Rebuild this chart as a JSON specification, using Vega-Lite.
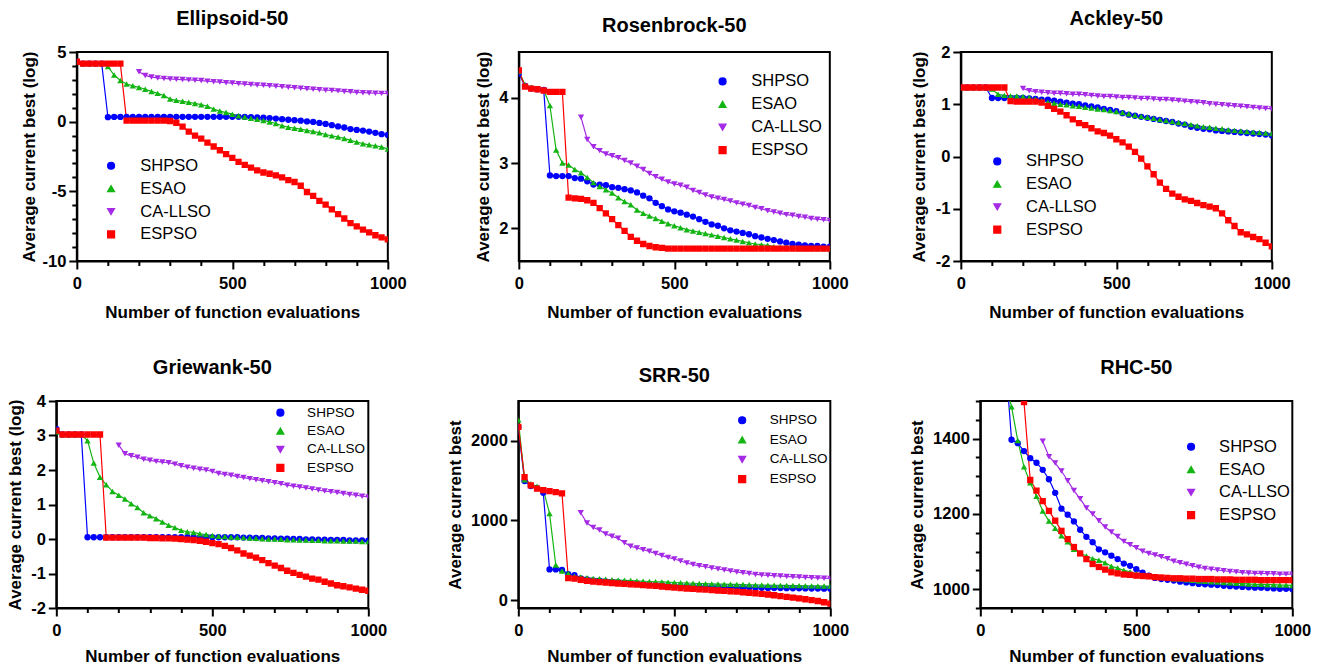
{
"$schema":"https://vega.github.io/schema/vega-lite/v6.json",
"background":"white",
"padding":{"left":5,"top":8,"right":5,"bottom":5},
"datasets":{
"ell":[
{"s":"SHPSO","x":0,"y":4.33},{"s":"SHPSO","x":20,"y":4.17},{"s":"SHPSO","x":40,"y":4.17},{"s":"SHPSO","x":60,"y":4.17},{"s":"SHPSO","x":80,"y":4.17},{"s":"SHPSO","x":100,"y":0.32},{"s":"SHPSO","x":120,"y":0.34},{"s":"SHPSO","x":140,"y":0.34},{"s":"SHPSO","x":160,"y":0.34},{"s":"SHPSO","x":180,"y":0.34},{"s":"SHPSO","x":200,"y":0.34},{"s":"SHPSO","x":220,"y":0.34},{"s":"SHPSO","x":240,"y":0.34},{"s":"SHPSO","x":260,"y":0.35},{"s":"SHPSO","x":280,"y":0.35},{"s":"SHPSO","x":300,"y":0.35},{"s":"SHPSO","x":320,"y":0.35},{"s":"SHPSO","x":340,"y":0.35},{"s":"SHPSO","x":360,"y":0.35},{"s":"SHPSO","x":380,"y":0.35},{"s":"SHPSO","x":400,"y":0.35},{"s":"SHPSO","x":420,"y":0.35},{"s":"SHPSO","x":440,"y":0.35},{"s":"SHPSO","x":460,"y":0.35},{"s":"SHPSO","x":480,"y":0.35},{"s":"SHPSO","x":500,"y":0.35},{"s":"SHPSO","x":520,"y":0.35},{"s":"SHPSO","x":540,"y":0.34},{"s":"SHPSO","x":560,"y":0.33},{"s":"SHPSO","x":580,"y":0.3},{"s":"SHPSO","x":600,"y":0.28},{"s":"SHPSO","x":620,"y":0.26},{"s":"SHPSO","x":640,"y":0.22},{"s":"SHPSO","x":660,"y":0.18},{"s":"SHPSO","x":680,"y":0.14},{"s":"SHPSO","x":700,"y":0.11},{"s":"SHPSO","x":720,"y":0.07},{"s":"SHPSO","x":740,"y":0.02},{"s":"SHPSO","x":760,"y":-0.02},{"s":"SHPSO","x":780,"y":-0.09},{"s":"SHPSO","x":800,"y":-0.16},{"s":"SHPSO","x":820,"y":-0.25},{"s":"SHPSO","x":840,"y":-0.34},{"s":"SHPSO","x":860,"y":-0.42},{"s":"SHPSO","x":880,"y":-0.53},{"s":"SHPSO","x":900,"y":-0.59},{"s":"SHPSO","x":920,"y":-0.64},{"s":"SHPSO","x":940,"y":-0.71},{"s":"SHPSO","x":960,"y":-0.8},{"s":"SHPSO","x":980,"y":-0.9},{"s":"SHPSO","x":1000,"y":-0.95},
{"s":"ESAO","x":0,"y":4.3},{"s":"ESAO","x":20,"y":4.17},{"s":"ESAO","x":40,"y":4.17},{"s":"ESAO","x":60,"y":4.17},{"s":"ESAO","x":80,"y":4.17},{"s":"ESAO","x":100,"y":3.95},{"s":"ESAO","x":120,"y":3.35},{"s":"ESAO","x":140,"y":2.95},{"s":"ESAO","x":160,"y":2.7},{"s":"ESAO","x":180,"y":2.57},{"s":"ESAO","x":200,"y":2.46},{"s":"ESAO","x":220,"y":2.33},{"s":"ESAO","x":240,"y":2.17},{"s":"ESAO","x":260,"y":2.03},{"s":"ESAO","x":280,"y":1.88},{"s":"ESAO","x":300,"y":1.62},{"s":"ESAO","x":320,"y":1.53},{"s":"ESAO","x":340,"y":1.46},{"s":"ESAO","x":360,"y":1.39},{"s":"ESAO","x":380,"y":1.31},{"s":"ESAO","x":400,"y":1.22},{"s":"ESAO","x":420,"y":1.11},{"s":"ESAO","x":440,"y":0.9},{"s":"ESAO","x":460,"y":0.76},{"s":"ESAO","x":480,"y":0.65},{"s":"ESAO","x":500,"y":0.54},{"s":"ESAO","x":520,"y":0.43},{"s":"ESAO","x":540,"y":0.34},{"s":"ESAO","x":560,"y":0.25},{"s":"ESAO","x":580,"y":0.17},{"s":"ESAO","x":600,"y":0.09},{"s":"ESAO","x":620,"y":-0.02},{"s":"ESAO","x":640,"y":-0.13},{"s":"ESAO","x":660,"y":-0.29},{"s":"ESAO","x":680,"y":-0.4},{"s":"ESAO","x":700,"y":-0.47},{"s":"ESAO","x":720,"y":-0.54},{"s":"ESAO","x":740,"y":-0.63},{"s":"ESAO","x":760,"y":-0.7},{"s":"ESAO","x":780,"y":-0.8},{"s":"ESAO","x":800,"y":-0.92},{"s":"ESAO","x":820,"y":-1.02},{"s":"ESAO","x":840,"y":-1.1},{"s":"ESAO","x":860,"y":-1.2},{"s":"ESAO","x":880,"y":-1.34},{"s":"ESAO","x":900,"y":-1.46},{"s":"ESAO","x":920,"y":-1.58},{"s":"ESAO","x":940,"y":-1.66},{"s":"ESAO","x":960,"y":-1.73},{"s":"ESAO","x":980,"y":-1.81},{"s":"ESAO","x":1000,"y":-1.97},
{"s":"CA-LLSO","x":200,"y":3.58},{"s":"CA-LLSO","x":220,"y":3.32},{"s":"CA-LLSO","x":240,"y":3.2},{"s":"CA-LLSO","x":260,"y":3.14},{"s":"CA-LLSO","x":280,"y":3.1},{"s":"CA-LLSO","x":300,"y":3.07},{"s":"CA-LLSO","x":320,"y":3.04},{"s":"CA-LLSO","x":340,"y":3.02},{"s":"CA-LLSO","x":360,"y":3.0},{"s":"CA-LLSO","x":380,"y":2.98},{"s":"CA-LLSO","x":400,"y":2.95},{"s":"CA-LLSO","x":420,"y":2.91},{"s":"CA-LLSO","x":440,"y":2.87},{"s":"CA-LLSO","x":460,"y":2.84},{"s":"CA-LLSO","x":480,"y":2.8},{"s":"CA-LLSO","x":500,"y":2.77},{"s":"CA-LLSO","x":520,"y":2.73},{"s":"CA-LLSO","x":540,"y":2.7},{"s":"CA-LLSO","x":560,"y":2.66},{"s":"CA-LLSO","x":580,"y":2.63},{"s":"CA-LLSO","x":600,"y":2.61},{"s":"CA-LLSO","x":620,"y":2.58},{"s":"CA-LLSO","x":640,"y":2.54},{"s":"CA-LLSO","x":660,"y":2.51},{"s":"CA-LLSO","x":680,"y":2.47},{"s":"CA-LLSO","x":700,"y":2.44},{"s":"CA-LLSO","x":720,"y":2.4},{"s":"CA-LLSO","x":740,"y":2.36},{"s":"CA-LLSO","x":760,"y":2.33},{"s":"CA-LLSO","x":780,"y":2.29},{"s":"CA-LLSO","x":800,"y":2.26},{"s":"CA-LLSO","x":820,"y":2.24},{"s":"CA-LLSO","x":840,"y":2.21},{"s":"CA-LLSO","x":860,"y":2.17},{"s":"CA-LLSO","x":880,"y":2.14},{"s":"CA-LLSO","x":900,"y":2.1},{"s":"CA-LLSO","x":920,"y":2.08},{"s":"CA-LLSO","x":940,"y":2.06},{"s":"CA-LLSO","x":960,"y":2.04},{"s":"CA-LLSO","x":980,"y":2.03},{"s":"CA-LLSO","x":1000,"y":2.02},
{"s":"ESPSO","x":0,"y":4.3},{"s":"ESPSO","x":20,"y":4.17},{"s":"ESPSO","x":40,"y":4.17},{"s":"ESPSO","x":60,"y":4.17},{"s":"ESPSO","x":80,"y":4.17},{"s":"ESPSO","x":100,"y":4.17},{"s":"ESPSO","x":120,"y":4.17},{"s":"ESPSO","x":140,"y":4.17},{"s":"ESPSO","x":160,"y":0.08},{"s":"ESPSO","x":180,"y":0.08},{"s":"ESPSO","x":200,"y":0.08},{"s":"ESPSO","x":220,"y":0.08},{"s":"ESPSO","x":240,"y":0.08},{"s":"ESPSO","x":260,"y":0.08},{"s":"ESPSO","x":280,"y":0.08},{"s":"ESPSO","x":300,"y":0.05},{"s":"ESPSO","x":320,"y":-0.08},{"s":"ESPSO","x":340,"y":-0.35},{"s":"ESPSO","x":360,"y":-0.72},{"s":"ESPSO","x":380,"y":-1.0},{"s":"ESPSO","x":400,"y":-1.22},{"s":"ESPSO","x":420,"y":-1.5},{"s":"ESPSO","x":440,"y":-1.78},{"s":"ESPSO","x":460,"y":-2.05},{"s":"ESPSO","x":480,"y":-2.33},{"s":"ESPSO","x":500,"y":-2.6},{"s":"ESPSO","x":520,"y":-2.88},{"s":"ESPSO","x":540,"y":-3.1},{"s":"ESPSO","x":560,"y":-3.3},{"s":"ESPSO","x":580,"y":-3.5},{"s":"ESPSO","x":600,"y":-3.65},{"s":"ESPSO","x":620,"y":-3.74},{"s":"ESPSO","x":640,"y":-3.85},{"s":"ESPSO","x":660,"y":-4.0},{"s":"ESPSO","x":680,"y":-4.2},{"s":"ESPSO","x":700,"y":-4.33},{"s":"ESPSO","x":720,"y":-4.6},{"s":"ESPSO","x":740,"y":-5.05},{"s":"ESPSO","x":760,"y":-5.33},{"s":"ESPSO","x":780,"y":-5.68},{"s":"ESPSO","x":800,"y":-5.95},{"s":"ESPSO","x":820,"y":-6.3},{"s":"ESPSO","x":840,"y":-6.63},{"s":"ESPSO","x":860,"y":-6.95},{"s":"ESPSO","x":880,"y":-7.28},{"s":"ESPSO","x":900,"y":-7.52},{"s":"ESPSO","x":920,"y":-7.75},{"s":"ESPSO","x":940,"y":-7.95},{"s":"ESPSO","x":960,"y":-8.15},{"s":"ESPSO","x":980,"y":-8.3},{"s":"ESPSO","x":1000,"y":-8.45}
],
"ros":[
{"s":"SHPSO","x":0,"y":4.37},{"s":"SHPSO","x":20,"y":4.18},{"s":"SHPSO","x":40,"y":4.14},{"s":"SHPSO","x":60,"y":4.13},{"s":"SHPSO","x":80,"y":4.12},{"s":"SHPSO","x":100,"y":2.81},{"s":"SHPSO","x":120,"y":2.8},{"s":"SHPSO","x":140,"y":2.8},{"s":"SHPSO","x":160,"y":2.8},{"s":"SHPSO","x":180,"y":2.77},{"s":"SHPSO","x":200,"y":2.76},{"s":"SHPSO","x":220,"y":2.72},{"s":"SHPSO","x":240,"y":2.67},{"s":"SHPSO","x":260,"y":2.67},{"s":"SHPSO","x":280,"y":2.66},{"s":"SHPSO","x":300,"y":2.63},{"s":"SHPSO","x":320,"y":2.62},{"s":"SHPSO","x":340,"y":2.6},{"s":"SHPSO","x":360,"y":2.58},{"s":"SHPSO","x":380,"y":2.55},{"s":"SHPSO","x":400,"y":2.5},{"s":"SHPSO","x":420,"y":2.46},{"s":"SHPSO","x":440,"y":2.39},{"s":"SHPSO","x":460,"y":2.34},{"s":"SHPSO","x":480,"y":2.29},{"s":"SHPSO","x":500,"y":2.26},{"s":"SHPSO","x":520,"y":2.24},{"s":"SHPSO","x":540,"y":2.21},{"s":"SHPSO","x":560,"y":2.18},{"s":"SHPSO","x":580,"y":2.14},{"s":"SHPSO","x":600,"y":2.1},{"s":"SHPSO","x":620,"y":2.06},{"s":"SHPSO","x":640,"y":2.04},{"s":"SHPSO","x":660,"y":2.0},{"s":"SHPSO","x":680,"y":1.97},{"s":"SHPSO","x":700,"y":1.95},{"s":"SHPSO","x":720,"y":1.93},{"s":"SHPSO","x":740,"y":1.91},{"s":"SHPSO","x":760,"y":1.88},{"s":"SHPSO","x":780,"y":1.86},{"s":"SHPSO","x":800,"y":1.84},{"s":"SHPSO","x":820,"y":1.82},{"s":"SHPSO","x":840,"y":1.8},{"s":"SHPSO","x":860,"y":1.78},{"s":"SHPSO","x":880,"y":1.76},{"s":"SHPSO","x":900,"y":1.75},{"s":"SHPSO","x":920,"y":1.74},{"s":"SHPSO","x":940,"y":1.73},{"s":"SHPSO","x":960,"y":1.73},{"s":"SHPSO","x":980,"y":1.72},{"s":"SHPSO","x":1000,"y":1.72},
{"s":"ESAO","x":0,"y":4.4},{"s":"ESAO","x":20,"y":4.2},{"s":"ESAO","x":40,"y":4.16},{"s":"ESAO","x":60,"y":4.14},{"s":"ESAO","x":80,"y":4.12},{"s":"ESAO","x":100,"y":3.88},{"s":"ESAO","x":120,"y":3.2},{"s":"ESAO","x":140,"y":3.0},{"s":"ESAO","x":160,"y":2.97},{"s":"ESAO","x":180,"y":2.9},{"s":"ESAO","x":200,"y":2.85},{"s":"ESAO","x":220,"y":2.78},{"s":"ESAO","x":240,"y":2.7},{"s":"ESAO","x":260,"y":2.64},{"s":"ESAO","x":280,"y":2.59},{"s":"ESAO","x":300,"y":2.54},{"s":"ESAO","x":320,"y":2.47},{"s":"ESAO","x":340,"y":2.41},{"s":"ESAO","x":360,"y":2.36},{"s":"ESAO","x":380,"y":2.28},{"s":"ESAO","x":400,"y":2.23},{"s":"ESAO","x":420,"y":2.19},{"s":"ESAO","x":440,"y":2.15},{"s":"ESAO","x":460,"y":2.11},{"s":"ESAO","x":480,"y":2.07},{"s":"ESAO","x":500,"y":2.04},{"s":"ESAO","x":520,"y":2.01},{"s":"ESAO","x":540,"y":1.98},{"s":"ESAO","x":560,"y":1.96},{"s":"ESAO","x":580,"y":1.94},{"s":"ESAO","x":600,"y":1.92},{"s":"ESAO","x":620,"y":1.9},{"s":"ESAO","x":640,"y":1.88},{"s":"ESAO","x":660,"y":1.86},{"s":"ESAO","x":680,"y":1.84},{"s":"ESAO","x":700,"y":1.82},{"s":"ESAO","x":720,"y":1.8},{"s":"ESAO","x":740,"y":1.78},{"s":"ESAO","x":760,"y":1.76},{"s":"ESAO","x":780,"y":1.75},{"s":"ESAO","x":800,"y":1.74},{"s":"ESAO","x":820,"y":1.72},{"s":"ESAO","x":840,"y":1.71},{"s":"ESAO","x":860,"y":1.71},{"s":"ESAO","x":880,"y":1.7},{"s":"ESAO","x":900,"y":1.69},{"s":"ESAO","x":920,"y":1.69},{"s":"ESAO","x":940,"y":1.69},{"s":"ESAO","x":960,"y":1.69},{"s":"ESAO","x":980,"y":1.69},{"s":"ESAO","x":1000,"y":1.69},
{"s":"CA-LLSO","x":200,"y":3.7},{"s":"CA-LLSO","x":220,"y":3.36},{"s":"CA-LLSO","x":240,"y":3.25},{"s":"CA-LLSO","x":260,"y":3.19},{"s":"CA-LLSO","x":280,"y":3.14},{"s":"CA-LLSO","x":300,"y":3.11},{"s":"CA-LLSO","x":320,"y":3.08},{"s":"CA-LLSO","x":340,"y":3.04},{"s":"CA-LLSO","x":360,"y":3.0},{"s":"CA-LLSO","x":380,"y":2.95},{"s":"CA-LLSO","x":400,"y":2.9},{"s":"CA-LLSO","x":420,"y":2.84},{"s":"CA-LLSO","x":440,"y":2.79},{"s":"CA-LLSO","x":460,"y":2.75},{"s":"CA-LLSO","x":480,"y":2.71},{"s":"CA-LLSO","x":500,"y":2.68},{"s":"CA-LLSO","x":520,"y":2.66},{"s":"CA-LLSO","x":540,"y":2.63},{"s":"CA-LLSO","x":560,"y":2.58},{"s":"CA-LLSO","x":580,"y":2.55},{"s":"CA-LLSO","x":600,"y":2.51},{"s":"CA-LLSO","x":620,"y":2.48},{"s":"CA-LLSO","x":640,"y":2.46},{"s":"CA-LLSO","x":660,"y":2.44},{"s":"CA-LLSO","x":680,"y":2.42},{"s":"CA-LLSO","x":700,"y":2.39},{"s":"CA-LLSO","x":720,"y":2.37},{"s":"CA-LLSO","x":740,"y":2.35},{"s":"CA-LLSO","x":760,"y":2.32},{"s":"CA-LLSO","x":780,"y":2.3},{"s":"CA-LLSO","x":800,"y":2.27},{"s":"CA-LLSO","x":820,"y":2.25},{"s":"CA-LLSO","x":840,"y":2.23},{"s":"CA-LLSO","x":860,"y":2.21},{"s":"CA-LLSO","x":880,"y":2.2},{"s":"CA-LLSO","x":900,"y":2.18},{"s":"CA-LLSO","x":920,"y":2.17},{"s":"CA-LLSO","x":940,"y":2.15},{"s":"CA-LLSO","x":960,"y":2.14},{"s":"CA-LLSO","x":980,"y":2.13},{"s":"CA-LLSO","x":1000,"y":2.12},
{"s":"ESPSO","x":0,"y":4.42},{"s":"ESPSO","x":20,"y":4.17},{"s":"ESPSO","x":40,"y":4.14},{"s":"ESPSO","x":60,"y":4.13},{"s":"ESPSO","x":80,"y":4.11},{"s":"ESPSO","x":100,"y":4.09},{"s":"ESPSO","x":120,"y":4.09},{"s":"ESPSO","x":140,"y":4.09},{"s":"ESPSO","x":160,"y":2.47},{"s":"ESPSO","x":180,"y":2.46},{"s":"ESPSO","x":200,"y":2.45},{"s":"ESPSO","x":220,"y":2.43},{"s":"ESPSO","x":240,"y":2.39},{"s":"ESPSO","x":260,"y":2.31},{"s":"ESPSO","x":280,"y":2.23},{"s":"ESPSO","x":300,"y":2.14},{"s":"ESPSO","x":320,"y":2.05},{"s":"ESPSO","x":340,"y":1.96},{"s":"ESPSO","x":360,"y":1.87},{"s":"ESPSO","x":380,"y":1.81},{"s":"ESPSO","x":400,"y":1.76},{"s":"ESPSO","x":420,"y":1.73},{"s":"ESPSO","x":440,"y":1.71},{"s":"ESPSO","x":460,"y":1.7},{"s":"ESPSO","x":480,"y":1.69},{"s":"ESPSO","x":500,"y":1.69},{"s":"ESPSO","x":520,"y":1.69},{"s":"ESPSO","x":540,"y":1.69},{"s":"ESPSO","x":560,"y":1.69},{"s":"ESPSO","x":580,"y":1.69},{"s":"ESPSO","x":600,"y":1.69},{"s":"ESPSO","x":620,"y":1.69},{"s":"ESPSO","x":640,"y":1.69},{"s":"ESPSO","x":660,"y":1.69},{"s":"ESPSO","x":680,"y":1.69},{"s":"ESPSO","x":700,"y":1.69},{"s":"ESPSO","x":720,"y":1.69},{"s":"ESPSO","x":740,"y":1.69},{"s":"ESPSO","x":760,"y":1.69},{"s":"ESPSO","x":780,"y":1.69},{"s":"ESPSO","x":800,"y":1.69},{"s":"ESPSO","x":820,"y":1.69},{"s":"ESPSO","x":840,"y":1.69},{"s":"ESPSO","x":860,"y":1.69},{"s":"ESPSO","x":880,"y":1.69},{"s":"ESPSO","x":900,"y":1.69},{"s":"ESPSO","x":920,"y":1.69},{"s":"ESPSO","x":940,"y":1.69},{"s":"ESPSO","x":960,"y":1.69},{"s":"ESPSO","x":980,"y":1.69},{"s":"ESPSO","x":1000,"y":1.69}
],
"ack":[
{"s":"SHPSO","x":0,"y":1.32},{"s":"SHPSO","x":20,"y":1.32},{"s":"SHPSO","x":40,"y":1.32},{"s":"SHPSO","x":60,"y":1.32},{"s":"SHPSO","x":80,"y":1.32},{"s":"SHPSO","x":100,"y":1.12},{"s":"SHPSO","x":120,"y":1.12},{"s":"SHPSO","x":140,"y":1.12},{"s":"SHPSO","x":160,"y":1.12},{"s":"SHPSO","x":180,"y":1.12},{"s":"SHPSO","x":200,"y":1.12},{"s":"SHPSO","x":220,"y":1.11},{"s":"SHPSO","x":240,"y":1.1},{"s":"SHPSO","x":260,"y":1.09},{"s":"SHPSO","x":280,"y":1.09},{"s":"SHPSO","x":300,"y":1.07},{"s":"SHPSO","x":320,"y":1.05},{"s":"SHPSO","x":340,"y":1.03},{"s":"SHPSO","x":360,"y":1.01},{"s":"SHPSO","x":380,"y":1.0},{"s":"SHPSO","x":400,"y":0.98},{"s":"SHPSO","x":420,"y":0.96},{"s":"SHPSO","x":440,"y":0.94},{"s":"SHPSO","x":460,"y":0.91},{"s":"SHPSO","x":480,"y":0.89},{"s":"SHPSO","x":500,"y":0.87},{"s":"SHPSO","x":520,"y":0.83},{"s":"SHPSO","x":540,"y":0.8},{"s":"SHPSO","x":560,"y":0.78},{"s":"SHPSO","x":580,"y":0.76},{"s":"SHPSO","x":600,"y":0.74},{"s":"SHPSO","x":620,"y":0.72},{"s":"SHPSO","x":640,"y":0.7},{"s":"SHPSO","x":660,"y":0.68},{"s":"SHPSO","x":680,"y":0.66},{"s":"SHPSO","x":700,"y":0.63},{"s":"SHPSO","x":720,"y":0.61},{"s":"SHPSO","x":740,"y":0.57},{"s":"SHPSO","x":760,"y":0.55},{"s":"SHPSO","x":780,"y":0.53},{"s":"SHPSO","x":800,"y":0.52},{"s":"SHPSO","x":820,"y":0.5},{"s":"SHPSO","x":840,"y":0.49},{"s":"SHPSO","x":860,"y":0.48},{"s":"SHPSO","x":880,"y":0.47},{"s":"SHPSO","x":900,"y":0.46},{"s":"SHPSO","x":920,"y":0.45},{"s":"SHPSO","x":940,"y":0.44},{"s":"SHPSO","x":960,"y":0.43},{"s":"SHPSO","x":980,"y":0.42},{"s":"SHPSO","x":1000,"y":0.4},
{"s":"ESAO","x":0,"y":1.32},{"s":"ESAO","x":20,"y":1.32},{"s":"ESAO","x":40,"y":1.32},{"s":"ESAO","x":60,"y":1.32},{"s":"ESAO","x":80,"y":1.32},{"s":"ESAO","x":100,"y":1.29},{"s":"ESAO","x":120,"y":1.19},{"s":"ESAO","x":140,"y":1.17},{"s":"ESAO","x":160,"y":1.16},{"s":"ESAO","x":180,"y":1.16},{"s":"ESAO","x":200,"y":1.15},{"s":"ESAO","x":220,"y":1.13},{"s":"ESAO","x":240,"y":1.1},{"s":"ESAO","x":260,"y":1.07},{"s":"ESAO","x":280,"y":1.04},{"s":"ESAO","x":300,"y":1.02},{"s":"ESAO","x":320,"y":1.0},{"s":"ESAO","x":340,"y":0.99},{"s":"ESAO","x":360,"y":0.97},{"s":"ESAO","x":380,"y":0.96},{"s":"ESAO","x":400,"y":0.94},{"s":"ESAO","x":420,"y":0.93},{"s":"ESAO","x":440,"y":0.91},{"s":"ESAO","x":460,"y":0.9},{"s":"ESAO","x":480,"y":0.88},{"s":"ESAO","x":500,"y":0.86},{"s":"ESAO","x":520,"y":0.84},{"s":"ESAO","x":540,"y":0.82},{"s":"ESAO","x":560,"y":0.79},{"s":"ESAO","x":580,"y":0.77},{"s":"ESAO","x":600,"y":0.75},{"s":"ESAO","x":620,"y":0.73},{"s":"ESAO","x":640,"y":0.71},{"s":"ESAO","x":660,"y":0.69},{"s":"ESAO","x":680,"y":0.67},{"s":"ESAO","x":700,"y":0.65},{"s":"ESAO","x":720,"y":0.63},{"s":"ESAO","x":740,"y":0.61},{"s":"ESAO","x":760,"y":0.59},{"s":"ESAO","x":780,"y":0.57},{"s":"ESAO","x":800,"y":0.56},{"s":"ESAO","x":820,"y":0.54},{"s":"ESAO","x":840,"y":0.53},{"s":"ESAO","x":860,"y":0.51},{"s":"ESAO","x":880,"y":0.5},{"s":"ESAO","x":900,"y":0.49},{"s":"ESAO","x":920,"y":0.48},{"s":"ESAO","x":940,"y":0.47},{"s":"ESAO","x":960,"y":0.46},{"s":"ESAO","x":980,"y":0.45},{"s":"ESAO","x":1000,"y":0.44},
{"s":"CA-LLSO","x":200,"y":1.3},{"s":"CA-LLSO","x":220,"y":1.26},{"s":"CA-LLSO","x":240,"y":1.24},{"s":"CA-LLSO","x":260,"y":1.23},{"s":"CA-LLSO","x":280,"y":1.22},{"s":"CA-LLSO","x":300,"y":1.21},{"s":"CA-LLSO","x":320,"y":1.21},{"s":"CA-LLSO","x":340,"y":1.2},{"s":"CA-LLSO","x":360,"y":1.19},{"s":"CA-LLSO","x":380,"y":1.19},{"s":"CA-LLSO","x":400,"y":1.18},{"s":"CA-LLSO","x":420,"y":1.17},{"s":"CA-LLSO","x":440,"y":1.16},{"s":"CA-LLSO","x":460,"y":1.15},{"s":"CA-LLSO","x":480,"y":1.15},{"s":"CA-LLSO","x":500,"y":1.14},{"s":"CA-LLSO","x":520,"y":1.13},{"s":"CA-LLSO","x":540,"y":1.13},{"s":"CA-LLSO","x":560,"y":1.12},{"s":"CA-LLSO","x":580,"y":1.11},{"s":"CA-LLSO","x":600,"y":1.11},{"s":"CA-LLSO","x":620,"y":1.1},{"s":"CA-LLSO","x":640,"y":1.09},{"s":"CA-LLSO","x":660,"y":1.09},{"s":"CA-LLSO","x":680,"y":1.08},{"s":"CA-LLSO","x":700,"y":1.07},{"s":"CA-LLSO","x":720,"y":1.06},{"s":"CA-LLSO","x":740,"y":1.05},{"s":"CA-LLSO","x":760,"y":1.04},{"s":"CA-LLSO","x":780,"y":1.03},{"s":"CA-LLSO","x":800,"y":1.01},{"s":"CA-LLSO","x":820,"y":1.0},{"s":"CA-LLSO","x":840,"y":0.99},{"s":"CA-LLSO","x":860,"y":0.98},{"s":"CA-LLSO","x":880,"y":0.97},{"s":"CA-LLSO","x":900,"y":0.96},{"s":"CA-LLSO","x":920,"y":0.95},{"s":"CA-LLSO","x":940,"y":0.94},{"s":"CA-LLSO","x":960,"y":0.93},{"s":"CA-LLSO","x":980,"y":0.92},{"s":"CA-LLSO","x":1000,"y":0.91},
{"s":"ESPSO","x":0,"y":1.32},{"s":"ESPSO","x":20,"y":1.32},{"s":"ESPSO","x":40,"y":1.32},{"s":"ESPSO","x":60,"y":1.32},{"s":"ESPSO","x":80,"y":1.32},{"s":"ESPSO","x":100,"y":1.32},{"s":"ESPSO","x":120,"y":1.32},{"s":"ESPSO","x":140,"y":1.32},{"s":"ESPSO","x":160,"y":1.06},{"s":"ESPSO","x":180,"y":1.05},{"s":"ESPSO","x":200,"y":1.05},{"s":"ESPSO","x":220,"y":1.05},{"s":"ESPSO","x":240,"y":1.05},{"s":"ESPSO","x":260,"y":1.03},{"s":"ESPSO","x":280,"y":0.97},{"s":"ESPSO","x":300,"y":0.91},{"s":"ESPSO","x":320,"y":0.86},{"s":"ESPSO","x":340,"y":0.79},{"s":"ESPSO","x":360,"y":0.71},{"s":"ESPSO","x":380,"y":0.64},{"s":"ESPSO","x":400,"y":0.6},{"s":"ESPSO","x":420,"y":0.54},{"s":"ESPSO","x":440,"y":0.48},{"s":"ESPSO","x":460,"y":0.45},{"s":"ESPSO","x":480,"y":0.4},{"s":"ESPSO","x":500,"y":0.33},{"s":"ESPSO","x":520,"y":0.27},{"s":"ESPSO","x":540,"y":0.19},{"s":"ESPSO","x":560,"y":0.09},{"s":"ESPSO","x":580,"y":-0.04},{"s":"ESPSO","x":600,"y":-0.19},{"s":"ESPSO","x":620,"y":-0.34},{"s":"ESPSO","x":640,"y":-0.5},{"s":"ESPSO","x":660,"y":-0.62},{"s":"ESPSO","x":680,"y":-0.71},{"s":"ESPSO","x":700,"y":-0.77},{"s":"ESPSO","x":720,"y":-0.82},{"s":"ESPSO","x":740,"y":-0.85},{"s":"ESPSO","x":760,"y":-0.89},{"s":"ESPSO","x":780,"y":-0.93},{"s":"ESPSO","x":800,"y":-0.96},{"s":"ESPSO","x":820,"y":-0.99},{"s":"ESPSO","x":840,"y":-1.09},{"s":"ESPSO","x":860,"y":-1.22},{"s":"ESPSO","x":880,"y":-1.33},{"s":"ESPSO","x":900,"y":-1.45},{"s":"ESPSO","x":920,"y":-1.49},{"s":"ESPSO","x":940,"y":-1.54},{"s":"ESPSO","x":960,"y":-1.58},{"s":"ESPSO","x":980,"y":-1.65},{"s":"ESPSO","x":1000,"y":-1.72}
],
"gri":[
{"s":"SHPSO","x":0,"y":3.19},{"s":"SHPSO","x":20,"y":3.03},{"s":"SHPSO","x":40,"y":3.03},{"s":"SHPSO","x":60,"y":3.03},{"s":"SHPSO","x":80,"y":3.03},{"s":"SHPSO","x":100,"y":0.05},{"s":"SHPSO","x":120,"y":0.05},{"s":"SHPSO","x":140,"y":0.05},{"s":"SHPSO","x":160,"y":0.05},{"s":"SHPSO","x":180,"y":0.05},{"s":"SHPSO","x":200,"y":0.05},{"s":"SHPSO","x":220,"y":0.05},{"s":"SHPSO","x":240,"y":0.05},{"s":"SHPSO","x":260,"y":0.05},{"s":"SHPSO","x":280,"y":0.05},{"s":"SHPSO","x":300,"y":0.05},{"s":"SHPSO","x":320,"y":0.05},{"s":"SHPSO","x":340,"y":0.05},{"s":"SHPSO","x":360,"y":0.05},{"s":"SHPSO","x":380,"y":0.05},{"s":"SHPSO","x":400,"y":0.05},{"s":"SHPSO","x":420,"y":0.05},{"s":"SHPSO","x":440,"y":0.05},{"s":"SHPSO","x":460,"y":0.05},{"s":"SHPSO","x":480,"y":0.05},{"s":"SHPSO","x":500,"y":0.05},{"s":"SHPSO","x":520,"y":0.05},{"s":"SHPSO","x":540,"y":0.05},{"s":"SHPSO","x":560,"y":0.05},{"s":"SHPSO","x":580,"y":0.05},{"s":"SHPSO","x":600,"y":0.04},{"s":"SHPSO","x":620,"y":0.04},{"s":"SHPSO","x":640,"y":0.03},{"s":"SHPSO","x":660,"y":0.03},{"s":"SHPSO","x":680,"y":0.02},{"s":"SHPSO","x":700,"y":0.02},{"s":"SHPSO","x":720,"y":0.01},{"s":"SHPSO","x":740,"y":0.01},{"s":"SHPSO","x":760,"y":0.0},{"s":"SHPSO","x":780,"y":0.0},{"s":"SHPSO","x":800,"y":-0.01},{"s":"SHPSO","x":820,"y":-0.01},{"s":"SHPSO","x":840,"y":-0.02},{"s":"SHPSO","x":860,"y":-0.02},{"s":"SHPSO","x":880,"y":-0.03},{"s":"SHPSO","x":900,"y":-0.03},{"s":"SHPSO","x":920,"y":-0.03},{"s":"SHPSO","x":940,"y":-0.04},{"s":"SHPSO","x":960,"y":-0.04},{"s":"SHPSO","x":980,"y":-0.04},{"s":"SHPSO","x":1000,"y":-0.05},
{"s":"ESAO","x":0,"y":3.1},{"s":"ESAO","x":20,"y":3.03},{"s":"ESAO","x":40,"y":3.03},{"s":"ESAO","x":60,"y":3.03},{"s":"ESAO","x":80,"y":3.03},{"s":"ESAO","x":100,"y":2.85},{"s":"ESAO","x":120,"y":2.2},{"s":"ESAO","x":140,"y":1.79},{"s":"ESAO","x":160,"y":1.57},{"s":"ESAO","x":180,"y":1.38},{"s":"ESAO","x":200,"y":1.27},{"s":"ESAO","x":220,"y":1.16},{"s":"ESAO","x":240,"y":1.02},{"s":"ESAO","x":260,"y":0.91},{"s":"ESAO","x":280,"y":0.76},{"s":"ESAO","x":300,"y":0.67},{"s":"ESAO","x":320,"y":0.59},{"s":"ESAO","x":340,"y":0.49},{"s":"ESAO","x":360,"y":0.4},{"s":"ESAO","x":380,"y":0.33},{"s":"ESAO","x":400,"y":0.25},{"s":"ESAO","x":420,"y":0.21},{"s":"ESAO","x":440,"y":0.19},{"s":"ESAO","x":460,"y":0.15},{"s":"ESAO","x":480,"y":0.13},{"s":"ESAO","x":500,"y":0.1},{"s":"ESAO","x":520,"y":0.08},{"s":"ESAO","x":540,"y":0.07},{"s":"ESAO","x":560,"y":0.06},{"s":"ESAO","x":580,"y":0.05},{"s":"ESAO","x":600,"y":0.04},{"s":"ESAO","x":620,"y":0.03},{"s":"ESAO","x":640,"y":0.02},{"s":"ESAO","x":660,"y":0.01},{"s":"ESAO","x":680,"y":0.0},{"s":"ESAO","x":700,"y":0.0},{"s":"ESAO","x":720,"y":-0.01},{"s":"ESAO","x":740,"y":-0.02},{"s":"ESAO","x":760,"y":-0.02},{"s":"ESAO","x":780,"y":-0.03},{"s":"ESAO","x":800,"y":-0.03},{"s":"ESAO","x":820,"y":-0.04},{"s":"ESAO","x":840,"y":-0.04},{"s":"ESAO","x":860,"y":-0.05},{"s":"ESAO","x":880,"y":-0.05},{"s":"ESAO","x":900,"y":-0.05},{"s":"ESAO","x":920,"y":-0.06},{"s":"ESAO","x":940,"y":-0.06},{"s":"ESAO","x":960,"y":-0.06},{"s":"ESAO","x":980,"y":-0.07},{"s":"ESAO","x":1000,"y":-0.07},
{"s":"CA-LLSO","x":200,"y":2.72},{"s":"CA-LLSO","x":220,"y":2.47},{"s":"CA-LLSO","x":240,"y":2.41},{"s":"CA-LLSO","x":260,"y":2.37},{"s":"CA-LLSO","x":280,"y":2.31},{"s":"CA-LLSO","x":300,"y":2.28},{"s":"CA-LLSO","x":320,"y":2.25},{"s":"CA-LLSO","x":340,"y":2.23},{"s":"CA-LLSO","x":360,"y":2.21},{"s":"CA-LLSO","x":380,"y":2.17},{"s":"CA-LLSO","x":400,"y":2.12},{"s":"CA-LLSO","x":420,"y":2.08},{"s":"CA-LLSO","x":440,"y":2.05},{"s":"CA-LLSO","x":460,"y":2.02},{"s":"CA-LLSO","x":480,"y":2.0},{"s":"CA-LLSO","x":500,"y":1.96},{"s":"CA-LLSO","x":520,"y":1.9},{"s":"CA-LLSO","x":540,"y":1.87},{"s":"CA-LLSO","x":560,"y":1.85},{"s":"CA-LLSO","x":580,"y":1.81},{"s":"CA-LLSO","x":600,"y":1.78},{"s":"CA-LLSO","x":620,"y":1.75},{"s":"CA-LLSO","x":640,"y":1.72},{"s":"CA-LLSO","x":660,"y":1.69},{"s":"CA-LLSO","x":680,"y":1.66},{"s":"CA-LLSO","x":700,"y":1.63},{"s":"CA-LLSO","x":720,"y":1.6},{"s":"CA-LLSO","x":740,"y":1.56},{"s":"CA-LLSO","x":760,"y":1.53},{"s":"CA-LLSO","x":780,"y":1.51},{"s":"CA-LLSO","x":800,"y":1.48},{"s":"CA-LLSO","x":820,"y":1.45},{"s":"CA-LLSO","x":840,"y":1.42},{"s":"CA-LLSO","x":860,"y":1.39},{"s":"CA-LLSO","x":880,"y":1.37},{"s":"CA-LLSO","x":900,"y":1.35},{"s":"CA-LLSO","x":920,"y":1.32},{"s":"CA-LLSO","x":940,"y":1.29},{"s":"CA-LLSO","x":960,"y":1.27},{"s":"CA-LLSO","x":980,"y":1.24},{"s":"CA-LLSO","x":1000,"y":1.22},
{"s":"ESPSO","x":0,"y":3.14},{"s":"ESPSO","x":20,"y":3.03},{"s":"ESPSO","x":40,"y":3.03},{"s":"ESPSO","x":60,"y":3.03},{"s":"ESPSO","x":80,"y":3.03},{"s":"ESPSO","x":100,"y":3.03},{"s":"ESPSO","x":120,"y":3.03},{"s":"ESPSO","x":140,"y":3.03},{"s":"ESPSO","x":160,"y":0.04},{"s":"ESPSO","x":180,"y":0.04},{"s":"ESPSO","x":200,"y":0.04},{"s":"ESPSO","x":220,"y":0.04},{"s":"ESPSO","x":240,"y":0.04},{"s":"ESPSO","x":260,"y":0.04},{"s":"ESPSO","x":280,"y":0.04},{"s":"ESPSO","x":300,"y":0.03},{"s":"ESPSO","x":320,"y":0.03},{"s":"ESPSO","x":340,"y":0.02},{"s":"ESPSO","x":360,"y":0.02},{"s":"ESPSO","x":380,"y":0.01},{"s":"ESPSO","x":400,"y":0.0},{"s":"ESPSO","x":420,"y":-0.02},{"s":"ESPSO","x":440,"y":-0.03},{"s":"ESPSO","x":460,"y":-0.05},{"s":"ESPSO","x":480,"y":-0.08},{"s":"ESPSO","x":500,"y":-0.12},{"s":"ESPSO","x":520,"y":-0.15},{"s":"ESPSO","x":540,"y":-0.2},{"s":"ESPSO","x":560,"y":-0.26},{"s":"ESPSO","x":580,"y":-0.33},{"s":"ESPSO","x":600,"y":-0.42},{"s":"ESPSO","x":620,"y":-0.48},{"s":"ESPSO","x":640,"y":-0.54},{"s":"ESPSO","x":660,"y":-0.61},{"s":"ESPSO","x":680,"y":-0.7},{"s":"ESPSO","x":700,"y":-0.77},{"s":"ESPSO","x":720,"y":-0.84},{"s":"ESPSO","x":740,"y":-0.92},{"s":"ESPSO","x":760,"y":-0.98},{"s":"ESPSO","x":780,"y":-1.04},{"s":"ESPSO","x":800,"y":-1.09},{"s":"ESPSO","x":820,"y":-1.15},{"s":"ESPSO","x":840,"y":-1.18},{"s":"ESPSO","x":860,"y":-1.24},{"s":"ESPSO","x":880,"y":-1.29},{"s":"ESPSO","x":900,"y":-1.34},{"s":"ESPSO","x":920,"y":-1.37},{"s":"ESPSO","x":940,"y":-1.4},{"s":"ESPSO","x":960,"y":-1.44},{"s":"ESPSO","x":980,"y":-1.47},{"s":"ESPSO","x":1000,"y":-1.5}
],
"srr":[
{"s":"SHPSO","x":0,"y":2176},{"s":"SHPSO","x":20,"y":1494},{"s":"SHPSO","x":40,"y":1431},{"s":"SHPSO","x":60,"y":1406},{"s":"SHPSO","x":80,"y":1347},{"s":"SHPSO","x":100,"y":385},{"s":"SHPSO","x":120,"y":385},{"s":"SHPSO","x":140,"y":378},{"s":"SHPSO","x":160,"y":325},{"s":"SHPSO","x":180,"y":312},{"s":"SHPSO","x":200,"y":272},{"s":"SHPSO","x":220,"y":260},{"s":"SHPSO","x":240,"y":248},{"s":"SHPSO","x":260,"y":243},{"s":"SHPSO","x":280,"y":235},{"s":"SHPSO","x":300,"y":228},{"s":"SHPSO","x":320,"y":222},{"s":"SHPSO","x":340,"y":216},{"s":"SHPSO","x":360,"y":210},{"s":"SHPSO","x":380,"y":205},{"s":"SHPSO","x":400,"y":200},{"s":"SHPSO","x":420,"y":195},{"s":"SHPSO","x":440,"y":190},{"s":"SHPSO","x":460,"y":186},{"s":"SHPSO","x":480,"y":182},{"s":"SHPSO","x":500,"y":178},{"s":"SHPSO","x":520,"y":176},{"s":"SHPSO","x":540,"y":174},{"s":"SHPSO","x":560,"y":172},{"s":"SHPSO","x":580,"y":170},{"s":"SHPSO","x":600,"y":168},{"s":"SHPSO","x":620,"y":166},{"s":"SHPSO","x":640,"y":165},{"s":"SHPSO","x":660,"y":163},{"s":"SHPSO","x":680,"y":161},{"s":"SHPSO","x":700,"y":159},{"s":"SHPSO","x":720,"y":158},{"s":"SHPSO","x":740,"y":156},{"s":"SHPSO","x":760,"y":155},{"s":"SHPSO","x":780,"y":153},{"s":"SHPSO","x":800,"y":152},{"s":"SHPSO","x":820,"y":151},{"s":"SHPSO","x":840,"y":150},{"s":"SHPSO","x":860,"y":149},{"s":"SHPSO","x":880,"y":148},{"s":"SHPSO","x":900,"y":147},{"s":"SHPSO","x":920,"y":146},{"s":"SHPSO","x":940,"y":145},{"s":"SHPSO","x":960,"y":144},{"s":"SHPSO","x":980,"y":143},{"s":"SHPSO","x":1000,"y":142},
{"s":"ESAO","x":0,"y":2264},{"s":"ESAO","x":20,"y":1510},{"s":"ESAO","x":40,"y":1460},{"s":"ESAO","x":60,"y":1430},{"s":"ESAO","x":80,"y":1390},{"s":"ESAO","x":100,"y":1088},{"s":"ESAO","x":120,"y":440},{"s":"ESAO","x":140,"y":364},{"s":"ESAO","x":160,"y":335},{"s":"ESAO","x":180,"y":300},{"s":"ESAO","x":200,"y":290},{"s":"ESAO","x":220,"y":280},{"s":"ESAO","x":240,"y":272},{"s":"ESAO","x":260,"y":266},{"s":"ESAO","x":280,"y":260},{"s":"ESAO","x":300,"y":256},{"s":"ESAO","x":320,"y":252},{"s":"ESAO","x":340,"y":248},{"s":"ESAO","x":360,"y":244},{"s":"ESAO","x":380,"y":240},{"s":"ESAO","x":400,"y":236},{"s":"ESAO","x":420,"y":233},{"s":"ESAO","x":440,"y":230},{"s":"ESAO","x":460,"y":227},{"s":"ESAO","x":480,"y":224},{"s":"ESAO","x":500,"y":220},{"s":"ESAO","x":520,"y":217},{"s":"ESAO","x":540,"y":214},{"s":"ESAO","x":560,"y":211},{"s":"ESAO","x":580,"y":208},{"s":"ESAO","x":600,"y":205},{"s":"ESAO","x":620,"y":203},{"s":"ESAO","x":640,"y":201},{"s":"ESAO","x":660,"y":199},{"s":"ESAO","x":680,"y":197},{"s":"ESAO","x":700,"y":196},{"s":"ESAO","x":720,"y":194},{"s":"ESAO","x":740,"y":192},{"s":"ESAO","x":760,"y":190},{"s":"ESAO","x":780,"y":189},{"s":"ESAO","x":800,"y":187},{"s":"ESAO","x":820,"y":186},{"s":"ESAO","x":840,"y":184},{"s":"ESAO","x":860,"y":183},{"s":"ESAO","x":880,"y":182},{"s":"ESAO","x":900,"y":181},{"s":"ESAO","x":920,"y":179},{"s":"ESAO","x":940,"y":178},{"s":"ESAO","x":960,"y":177},{"s":"ESAO","x":980,"y":176},{"s":"ESAO","x":1000,"y":175},
{"s":"CA-LLSO","x":200,"y":1096},{"s":"CA-LLSO","x":220,"y":968},{"s":"CA-LLSO","x":240,"y":910},{"s":"CA-LLSO","x":260,"y":880},{"s":"CA-LLSO","x":280,"y":830},{"s":"CA-LLSO","x":300,"y":800},{"s":"CA-LLSO","x":320,"y":775},{"s":"CA-LLSO","x":340,"y":720},{"s":"CA-LLSO","x":360,"y":675},{"s":"CA-LLSO","x":380,"y":655},{"s":"CA-LLSO","x":400,"y":632},{"s":"CA-LLSO","x":420,"y":612},{"s":"CA-LLSO","x":440,"y":585},{"s":"CA-LLSO","x":460,"y":558},{"s":"CA-LLSO","x":480,"y":536},{"s":"CA-LLSO","x":500,"y":515},{"s":"CA-LLSO","x":520,"y":490},{"s":"CA-LLSO","x":540,"y":465},{"s":"CA-LLSO","x":560,"y":445},{"s":"CA-LLSO","x":580,"y":430},{"s":"CA-LLSO","x":600,"y":418},{"s":"CA-LLSO","x":620,"y":402},{"s":"CA-LLSO","x":640,"y":390},{"s":"CA-LLSO","x":660,"y":378},{"s":"CA-LLSO","x":680,"y":366},{"s":"CA-LLSO","x":700,"y":353},{"s":"CA-LLSO","x":720,"y":342},{"s":"CA-LLSO","x":740,"y":333},{"s":"CA-LLSO","x":760,"y":322},{"s":"CA-LLSO","x":780,"y":315},{"s":"CA-LLSO","x":800,"y":310},{"s":"CA-LLSO","x":820,"y":305},{"s":"CA-LLSO","x":840,"y":301},{"s":"CA-LLSO","x":860,"y":296},{"s":"CA-LLSO","x":880,"y":292},{"s":"CA-LLSO","x":900,"y":288},{"s":"CA-LLSO","x":920,"y":284},{"s":"CA-LLSO","x":940,"y":281},{"s":"CA-LLSO","x":960,"y":278},{"s":"CA-LLSO","x":980,"y":275},{"s":"CA-LLSO","x":1000,"y":272},
{"s":"ESPSO","x":0,"y":2176},{"s":"ESPSO","x":20,"y":1544},{"s":"ESPSO","x":40,"y":1440},{"s":"ESPSO","x":60,"y":1400},{"s":"ESPSO","x":80,"y":1381},{"s":"ESPSO","x":100,"y":1368},{"s":"ESPSO","x":120,"y":1356},{"s":"ESPSO","x":140,"y":1339},{"s":"ESPSO","x":160,"y":276},{"s":"ESPSO","x":180,"y":268},{"s":"ESPSO","x":200,"y":255},{"s":"ESPSO","x":220,"y":240},{"s":"ESPSO","x":240,"y":232},{"s":"ESPSO","x":260,"y":226},{"s":"ESPSO","x":280,"y":220},{"s":"ESPSO","x":300,"y":214},{"s":"ESPSO","x":320,"y":208},{"s":"ESPSO","x":340,"y":203},{"s":"ESPSO","x":360,"y":198},{"s":"ESPSO","x":380,"y":193},{"s":"ESPSO","x":400,"y":188},{"s":"ESPSO","x":420,"y":182},{"s":"ESPSO","x":440,"y":177},{"s":"ESPSO","x":460,"y":170},{"s":"ESPSO","x":480,"y":162},{"s":"ESPSO","x":500,"y":155},{"s":"ESPSO","x":520,"y":150},{"s":"ESPSO","x":540,"y":145},{"s":"ESPSO","x":560,"y":140},{"s":"ESPSO","x":580,"y":135},{"s":"ESPSO","x":600,"y":130},{"s":"ESPSO","x":620,"y":125},{"s":"ESPSO","x":640,"y":120},{"s":"ESPSO","x":660,"y":115},{"s":"ESPSO","x":680,"y":110},{"s":"ESPSO","x":700,"y":105},{"s":"ESPSO","x":720,"y":98},{"s":"ESPSO","x":740,"y":92},{"s":"ESPSO","x":760,"y":85},{"s":"ESPSO","x":780,"y":78},{"s":"ESPSO","x":800,"y":70},{"s":"ESPSO","x":820,"y":60},{"s":"ESPSO","x":840,"y":50},{"s":"ESPSO","x":860,"y":40},{"s":"ESPSO","x":880,"y":30},{"s":"ESPSO","x":900,"y":20},{"s":"ESPSO","x":920,"y":10},{"s":"ESPSO","x":940,"y":0},{"s":"ESPSO","x":960,"y":-12},{"s":"ESPSO","x":980,"y":-28},{"s":"ESPSO","x":1000,"y":-45}
],
"rhc":[
{"s":"SHPSO","x":0,"y":1700},{"s":"SHPSO","x":20,"y":1620},{"s":"SHPSO","x":40,"y":1620},{"s":"SHPSO","x":60,"y":1620},{"s":"SHPSO","x":80,"y":1620},{"s":"SHPSO","x":100,"y":1397},{"s":"SHPSO","x":120,"y":1388},{"s":"SHPSO","x":140,"y":1367},{"s":"SHPSO","x":160,"y":1348},{"s":"SHPSO","x":180,"y":1336},{"s":"SHPSO","x":200,"y":1317},{"s":"SHPSO","x":220,"y":1292},{"s":"SHPSO","x":240,"y":1256},{"s":"SHPSO","x":260,"y":1214},{"s":"SHPSO","x":280,"y":1198},{"s":"SHPSO","x":300,"y":1180},{"s":"SHPSO","x":320,"y":1158},{"s":"SHPSO","x":340,"y":1139},{"s":"SHPSO","x":360,"y":1125},{"s":"SHPSO","x":380,"y":1106},{"s":"SHPSO","x":400,"y":1098},{"s":"SHPSO","x":420,"y":1089},{"s":"SHPSO","x":440,"y":1080},{"s":"SHPSO","x":460,"y":1068},{"s":"SHPSO","x":480,"y":1062},{"s":"SHPSO","x":500,"y":1053},{"s":"SHPSO","x":520,"y":1044},{"s":"SHPSO","x":540,"y":1036},{"s":"SHPSO","x":560,"y":1030},{"s":"SHPSO","x":580,"y":1027},{"s":"SHPSO","x":600,"y":1025},{"s":"SHPSO","x":620,"y":1023},{"s":"SHPSO","x":640,"y":1020},{"s":"SHPSO","x":660,"y":1018},{"s":"SHPSO","x":680,"y":1016},{"s":"SHPSO","x":700,"y":1014},{"s":"SHPSO","x":720,"y":1013},{"s":"SHPSO","x":740,"y":1012},{"s":"SHPSO","x":760,"y":1011},{"s":"SHPSO","x":780,"y":1009},{"s":"SHPSO","x":800,"y":1008},{"s":"SHPSO","x":820,"y":1007},{"s":"SHPSO","x":840,"y":1006},{"s":"SHPSO","x":860,"y":1005},{"s":"SHPSO","x":880,"y":1004},{"s":"SHPSO","x":900,"y":1004},{"s":"SHPSO","x":920,"y":1003},{"s":"SHPSO","x":940,"y":1002},{"s":"SHPSO","x":960,"y":1001},{"s":"SHPSO","x":980,"y":1001},{"s":"SHPSO","x":1000,"y":1000},
{"s":"ESAO","x":0,"y":1600},{"s":"ESAO","x":20,"y":1550},{"s":"ESAO","x":40,"y":1550},{"s":"ESAO","x":60,"y":1550},{"s":"ESAO","x":80,"y":1550},{"s":"ESAO","x":100,"y":1485},{"s":"ESAO","x":120,"y":1395},{"s":"ESAO","x":140,"y":1325},{"s":"ESAO","x":160,"y":1283},{"s":"ESAO","x":180,"y":1247},{"s":"ESAO","x":200,"y":1208},{"s":"ESAO","x":220,"y":1181},{"s":"ESAO","x":240,"y":1162},{"s":"ESAO","x":260,"y":1142},{"s":"ESAO","x":280,"y":1126},{"s":"ESAO","x":300,"y":1106},{"s":"ESAO","x":320,"y":1096},{"s":"ESAO","x":340,"y":1088},{"s":"ESAO","x":360,"y":1081},{"s":"ESAO","x":380,"y":1077},{"s":"ESAO","x":400,"y":1070},{"s":"ESAO","x":420,"y":1061},{"s":"ESAO","x":440,"y":1056},{"s":"ESAO","x":460,"y":1050},{"s":"ESAO","x":480,"y":1046},{"s":"ESAO","x":500,"y":1041},{"s":"ESAO","x":520,"y":1037},{"s":"ESAO","x":540,"y":1035},{"s":"ESAO","x":560,"y":1034},{"s":"ESAO","x":580,"y":1032},{"s":"ESAO","x":600,"y":1030},{"s":"ESAO","x":620,"y":1028},{"s":"ESAO","x":640,"y":1027},{"s":"ESAO","x":660,"y":1025},{"s":"ESAO","x":680,"y":1024},{"s":"ESAO","x":700,"y":1022},{"s":"ESAO","x":720,"y":1021},{"s":"ESAO","x":740,"y":1020},{"s":"ESAO","x":760,"y":1019},{"s":"ESAO","x":780,"y":1018},{"s":"ESAO","x":800,"y":1017},{"s":"ESAO","x":820,"y":1016},{"s":"ESAO","x":840,"y":1015},{"s":"ESAO","x":860,"y":1014},{"s":"ESAO","x":880,"y":1013},{"s":"ESAO","x":900,"y":1013},{"s":"ESAO","x":920,"y":1012},{"s":"ESAO","x":940,"y":1012},{"s":"ESAO","x":960,"y":1011},{"s":"ESAO","x":980,"y":1011},{"s":"ESAO","x":1000,"y":1010},
{"s":"CA-LLSO","x":200,"y":1393},{"s":"CA-LLSO","x":220,"y":1352},{"s":"CA-LLSO","x":240,"y":1335},{"s":"CA-LLSO","x":260,"y":1314},{"s":"CA-LLSO","x":280,"y":1288},{"s":"CA-LLSO","x":300,"y":1262},{"s":"CA-LLSO","x":320,"y":1240},{"s":"CA-LLSO","x":340,"y":1216},{"s":"CA-LLSO","x":360,"y":1200},{"s":"CA-LLSO","x":380,"y":1182},{"s":"CA-LLSO","x":400,"y":1165},{"s":"CA-LLSO","x":420,"y":1152},{"s":"CA-LLSO","x":440,"y":1140},{"s":"CA-LLSO","x":460,"y":1127},{"s":"CA-LLSO","x":480,"y":1118},{"s":"CA-LLSO","x":500,"y":1110},{"s":"CA-LLSO","x":520,"y":1101},{"s":"CA-LLSO","x":540,"y":1095},{"s":"CA-LLSO","x":560,"y":1091},{"s":"CA-LLSO","x":580,"y":1086},{"s":"CA-LLSO","x":600,"y":1081},{"s":"CA-LLSO","x":620,"y":1074},{"s":"CA-LLSO","x":640,"y":1070},{"s":"CA-LLSO","x":660,"y":1066},{"s":"CA-LLSO","x":680,"y":1062},{"s":"CA-LLSO","x":700,"y":1058},{"s":"CA-LLSO","x":720,"y":1055},{"s":"CA-LLSO","x":740,"y":1053},{"s":"CA-LLSO","x":760,"y":1051},{"s":"CA-LLSO","x":780,"y":1049},{"s":"CA-LLSO","x":800,"y":1047},{"s":"CA-LLSO","x":820,"y":1046},{"s":"CA-LLSO","x":840,"y":1044},{"s":"CA-LLSO","x":860,"y":1043},{"s":"CA-LLSO","x":880,"y":1042},{"s":"CA-LLSO","x":900,"y":1042},{"s":"CA-LLSO","x":920,"y":1041},{"s":"CA-LLSO","x":940,"y":1041},{"s":"CA-LLSO","x":960,"y":1040},{"s":"CA-LLSO","x":980,"y":1040},{"s":"CA-LLSO","x":1000,"y":1040},
{"s":"ESPSO","x":0,"y":1600},{"s":"ESPSO","x":20,"y":1560},{"s":"ESPSO","x":40,"y":1560},{"s":"ESPSO","x":60,"y":1560},{"s":"ESPSO","x":80,"y":1560},{"s":"ESPSO","x":100,"y":1560},{"s":"ESPSO","x":120,"y":1560},{"s":"ESPSO","x":140,"y":1497},{"s":"ESPSO","x":160,"y":1290},{"s":"ESPSO","x":180,"y":1262},{"s":"ESPSO","x":200,"y":1234},{"s":"ESPSO","x":220,"y":1208},{"s":"ESPSO","x":240,"y":1182},{"s":"ESPSO","x":260,"y":1155},{"s":"ESPSO","x":280,"y":1133},{"s":"ESPSO","x":300,"y":1112},{"s":"ESPSO","x":320,"y":1095},{"s":"ESPSO","x":340,"y":1080},{"s":"ESPSO","x":360,"y":1067},{"s":"ESPSO","x":380,"y":1059},{"s":"ESPSO","x":400,"y":1052},{"s":"ESPSO","x":420,"y":1045},{"s":"ESPSO","x":440,"y":1042},{"s":"ESPSO","x":460,"y":1039},{"s":"ESPSO","x":480,"y":1038},{"s":"ESPSO","x":500,"y":1036},{"s":"ESPSO","x":520,"y":1035},{"s":"ESPSO","x":540,"y":1034},{"s":"ESPSO","x":560,"y":1032},{"s":"ESPSO","x":580,"y":1031},{"s":"ESPSO","x":600,"y":1030},{"s":"ESPSO","x":620,"y":1029},{"s":"ESPSO","x":640,"y":1029},{"s":"ESPSO","x":660,"y":1028},{"s":"ESPSO","x":680,"y":1028},{"s":"ESPSO","x":700,"y":1027},{"s":"ESPSO","x":720,"y":1027},{"s":"ESPSO","x":740,"y":1027},{"s":"ESPSO","x":760,"y":1026},{"s":"ESPSO","x":780,"y":1026},{"s":"ESPSO","x":800,"y":1026},{"s":"ESPSO","x":820,"y":1025},{"s":"ESPSO","x":840,"y":1025},{"s":"ESPSO","x":860,"y":1025},{"s":"ESPSO","x":880,"y":1025},{"s":"ESPSO","x":900,"y":1024},{"s":"ESPSO","x":920,"y":1024},{"s":"ESPSO","x":940,"y":1024},{"s":"ESPSO","x":960,"y":1024},{"s":"ESPSO","x":980,"y":1024},{"s":"ESPSO","x":1000,"y":1024}
]
},
"vconcat":[
{"hconcat":[
{"title":"Ellipsoid-50","width":311,"height":209,"data":{"name":"ell"},
"encoding":{
"x":{"field":"x","type":"quantitative","scale":{"domain":[0,1000],"nice":false},"axis":{"title":"Number of function evaluations","values":[0,100,200,300,400,500,600,700,800,900,1000],"labelExpr":"datum.value % 500 === 0 ? '' + datum.value : ''","tickSize":{"condition":{"test":"datum.value % 500 === 0","value":8},"value":4.5}}},
"y":{"field":"y","type":"quantitative","scale":{"domain":[-10,5],"nice":false,"zero":false},"axis":{"title":"Average current best (log)","titlePadding":3.5,"values":[-10,-9,-8,-7,-6,-5,-4,-3,-2,-1,0,1,2,3,4,5],"labelExpr":"datum.value % 5 === 0 ? '' + datum.value : ''","tickSize":{"condition":{"test":"datum.value % 5 === 0","value":8},"value":5}}}
},
"layer":[
{"mark":{"type":"line","strokeWidth":1.2,"clip":true},"encoding":{"color":{"field":"s","type":"nominal","scale":{"domain":["SHPSO","ESAO","CA-LLSO","ESPSO"],"range":["#0000ff","#13b513","#a52ae6","#ff0000"]},"legend":{"title":null,"legendX":26,"legendY":105.5,"labelFontSize":16.5,"rowPadding":5.9,"labelOffset":21}}}},
{"mark":{"type":"point","filled":true,"size":40,"opacity":1,"clip":true},"encoding":{"color":{"field":"s","type":"nominal","scale":{"domain":["SHPSO","ESAO","CA-LLSO","ESPSO"],"range":["#0000ff","#13b513","#a52ae6","#ff0000"]},"legend":null},"shape":{"field":"s","type":"nominal","scale":{"domain":["SHPSO","ESAO","CA-LLSO","ESPSO"],"range":["circle","triangle-up","triangle-down","square"]},"legend":null}}}
]},
{"title":"Rosenbrock-50","width":311,"height":209,"data":{"name":"ros"},
"encoding":{
"x":{"field":"x","type":"quantitative","scale":{"domain":[0,1000],"nice":false},"axis":{"title":"Number of function evaluations","values":[0,100,200,300,400,500,600,700,800,900,1000],"labelExpr":"datum.value % 500 === 0 ? '' + datum.value : ''","tickSize":{"condition":{"test":"datum.value % 500 === 0","value":8},"value":4.5}}},
"y":{"field":"y","type":"quantitative","scale":{"domain":[1.5,4.7],"nice":false,"zero":false},"axis":{"title":"Average current best (log)","values":[2,3,4],"labelExpr":"'' + datum.value","tickSize":8}}
},
"layer":[
{"mark":{"type":"line","strokeWidth":1.2,"clip":true},"encoding":{"color":{"field":"s","type":"nominal","scale":{"domain":["SHPSO","ESAO","CA-LLSO","ESPSO"],"range":["#0000ff","#13b513","#a52ae6","#ff0000"]},"legend":{"title":null,"legendX":195.5,"legendY":21.2,"labelFontSize":16.5,"rowPadding":5.9,"labelOffset":20.5}}}},
{"mark":{"type":"point","filled":true,"size":40,"opacity":1,"clip":true},"encoding":{"color":{"field":"s","type":"nominal","scale":{"domain":["SHPSO","ESAO","CA-LLSO","ESPSO"],"range":["#0000ff","#13b513","#a52ae6","#ff0000"]},"legend":null},"shape":{"field":"s","type":"nominal","scale":{"domain":["SHPSO","ESAO","CA-LLSO","ESPSO"],"range":["circle","triangle-up","triangle-down","square"]},"legend":null}}}
]},
{"title":"Ackley-50","width":311,"height":209,"data":{"name":"ack"},
"encoding":{
"x":{"field":"x","type":"quantitative","scale":{"domain":[0,1000],"nice":false},"axis":{"title":"Number of function evaluations","values":[0,100,200,300,400,500,600,700,800,900,1000],"labelExpr":"datum.value % 500 === 0 ? '' + datum.value : ''","tickSize":{"condition":{"test":"datum.value % 500 === 0","value":8},"value":4.5}}},
"y":{"field":"y","type":"quantitative","scale":{"domain":[-2,2],"nice":false,"zero":false},"axis":{"title":"Average current best (log)","values":[-2,-1,0,1,2],"labelExpr":"'' + datum.value","tickSize":8}}
},
"layer":[
{"mark":{"type":"line","strokeWidth":1.2,"clip":true},"encoding":{"color":{"field":"s","type":"nominal","scale":{"domain":["SHPSO","ESAO","CA-LLSO","ESPSO"],"range":["#0000ff","#13b513","#a52ae6","#ff0000"]},"legend":{"title":null,"legendX":28.2,"legendY":101.2,"labelFontSize":16.5,"rowPadding":5.7,"labelOffset":20.5}}}},
{"mark":{"type":"point","filled":true,"size":40,"opacity":1,"clip":true},"encoding":{"color":{"field":"s","type":"nominal","scale":{"domain":["SHPSO","ESAO","CA-LLSO","ESPSO"],"range":["#0000ff","#13b513","#a52ae6","#ff0000"]},"legend":null},"shape":{"field":"s","type":"nominal","scale":{"domain":["SHPSO","ESAO","CA-LLSO","ESPSO"],"range":["circle","triangle-up","triangle-down","square"]},"legend":null}}}
]}
],"spacing":131,"bounds":"flush","resolve":{"scale":{"x":"independent","y":"independent","color":"independent","shape":"independent"},"legend":{"color":"independent","shape":"independent"}}},
{"hconcat":[
{"title":"Griewank-50","width":312,"height":207,"data":{"name":"gri"},
"encoding":{
"x":{"field":"x","type":"quantitative","scale":{"domain":[0,1000],"nice":false},"axis":{"title":"Number of function evaluations","titlePadding":9.5,"values":[0,100,200,300,400,500,600,700,800,900,1000],"labelExpr":"datum.value % 500 === 0 ? '' + datum.value : ''","tickSize":{"condition":{"test":"datum.value % 500 === 0","value":8},"value":4.5}}},
"y":{"field":"y","type":"quantitative","scale":{"domain":[-2,4],"nice":false,"zero":false},"axis":{"title":"Average current best (log)","values":[-2,-1,0,1,2,3,4],"labelExpr":"'' + datum.value","tickSize":8}}
},
"layer":[
{"mark":{"type":"line","strokeWidth":1.2,"clip":true},"encoding":{"color":{"field":"s","type":"nominal","scale":{"domain":["SHPSO","ESAO","CA-LLSO","ESPSO"],"range":["#0000ff","#13b513","#a52ae6","#ff0000"]},"legend":{"title":null,"legendX":217.3,"legendY":4.9,"labelFontSize":13.5,"rowPadding":3.4,"labelOffset":20}}}},
{"mark":{"type":"point","filled":true,"size":40,"opacity":1,"clip":true},"encoding":{"color":{"field":"s","type":"nominal","scale":{"domain":["SHPSO","ESAO","CA-LLSO","ESPSO"],"range":["#0000ff","#13b513","#a52ae6","#ff0000"]},"legend":null},"shape":{"field":"s","type":"nominal","scale":{"domain":["SHPSO","ESAO","CA-LLSO","ESPSO"],"range":["circle","triangle-up","triangle-down","square"]},"legend":null}}}
]},
{"title":"SRR-50","width":312,"height":207,"data":{"name":"srr"},
"encoding":{
"x":{"field":"x","type":"quantitative","scale":{"domain":[0,1000],"nice":false},"axis":{"title":"Number of function evaluations","titlePadding":9.5,"values":[0,100,200,300,400,500,600,700,800,900,1000],"labelExpr":"datum.value % 500 === 0 ? '' + datum.value : ''","tickSize":{"condition":{"test":"datum.value % 500 === 0","value":8},"value":4.5}}},
"y":{"field":"y","type":"quantitative","scale":{"domain":[-100,2500],"nice":false,"zero":false},"axis":{"title":"Average current best","values":[0,1000,2000],"labelExpr":"'' + datum.value","tickSize":8}}
},
"layer":[
{"mark":{"type":"line","strokeWidth":1.2,"clip":true},"encoding":{"color":{"field":"s","type":"nominal","scale":{"domain":["SHPSO","ESAO","CA-LLSO","ESPSO"],"range":["#0000ff","#13b513","#a52ae6","#ff0000"]},"legend":{"title":null,"legendX":217.1,"legendY":12.5,"labelFontSize":13.5,"rowPadding":4.6,"labelOffset":20.9}}}},
{"mark":{"type":"point","filled":true,"size":40,"opacity":1,"clip":true},"encoding":{"color":{"field":"s","type":"nominal","scale":{"domain":["SHPSO","ESAO","CA-LLSO","ESPSO"],"range":["#0000ff","#13b513","#a52ae6","#ff0000"]},"legend":null},"shape":{"field":"s","type":"nominal","scale":{"domain":["SHPSO","ESAO","CA-LLSO","ESPSO"],"range":["circle","triangle-up","triangle-down","square"]},"legend":null}}}
]},
{"title":"RHC-50","width":312,"height":207,"data":{"name":"rhc"},
"encoding":{
"x":{"field":"x","type":"quantitative","scale":{"domain":[0,1000],"nice":false},"axis":{"title":"Number of function evaluations","titlePadding":9.5,"values":[0,100,200,300,400,500,600,700,800,900,1000],"labelExpr":"datum.value % 500 === 0 ? '' + datum.value : ''","tickSize":{"condition":{"test":"datum.value % 500 === 0","value":8},"value":4.5}}},
"y":{"field":"y","type":"quantitative","scale":{"domain":[950,1500],"nice":false,"zero":false},"axis":{"title":"Average current best","values":[950,1000,1050,1100,1150,1200,1250,1300,1350,1400,1450,1500],"labelExpr":"datum.value % 200 === 0 ? '' + datum.value : ''","tickSize":{"condition":{"test":"datum.value % 200 === 0","value":8},"value":5}}}
},
"layer":[
{"mark":{"type":"line","strokeWidth":1.2,"clip":true},"encoding":{"color":{"field":"s","type":"nominal","scale":{"domain":["SHPSO","ESAO","CA-LLSO","ESPSO"],"range":["#0000ff","#13b513","#a52ae6","#ff0000"]},"legend":{"title":null,"legendX":202.5,"legendY":37.5,"labelFontSize":16.5,"rowPadding":5.8,"labelOffset":19.8}}}},
{"mark":{"type":"point","filled":true,"size":40,"opacity":1,"clip":true},"encoding":{"color":{"field":"s","type":"nominal","scale":{"domain":["SHPSO","ESAO","CA-LLSO","ESPSO"],"range":["#0000ff","#13b513","#a52ae6","#ff0000"]},"legend":null},"shape":{"field":"s","type":"nominal","scale":{"domain":["SHPSO","ESAO","CA-LLSO","ESPSO"],"range":["circle","triangle-up","triangle-down","square"]},"legend":null}}}
]}
],"spacing":150,"bounds":"flush","resolve":{"scale":{"x":"independent","y":"independent","color":"independent","shape":"independent"},"legend":{"color":"independent","shape":"independent"}}}
],
"spacing":36,
"center":true,
"resolve":{"scale":{"x":"independent","y":"independent","color":"independent","shape":"independent"},"legend":{"color":"independent","shape":"independent"}},
"config":{
"font":"Liberation Sans",
"view":{"stroke":"black","strokeWidth":2},
"axis":{"grid":false,"domainColor":"black","domainWidth":2,"tickColor":"black","tickWidth":2,"labelColor":"black","labelFont":"Liberation Sans","labelFontSize":16.5,"labelFontWeight":"bold","titleFont":"Liberation Sans","titleFontSize":17,"titleFontWeight":"bold","titleColor":"black","labelFlush":false,"labelOverlap":false,"labelBound":false},
"axisX":{"labelPadding":6,"titlePadding":12.5},
"axisY":{"labelPadding":3,"titlePadding":6.5},
"title":{"font":"Liberation Sans","fontSize":20,"fontWeight":"bold","color":"black","anchor":"middle","frame":"group","baseline":"alphabetic","offset":15},
"legend":{"orient":"none","padding":0,"labelFont":"Liberation Sans","labelColor":"black","labelFontWeight":"normal","symbolSize":49,"symbolStrokeWidth":1.2}
}
}
